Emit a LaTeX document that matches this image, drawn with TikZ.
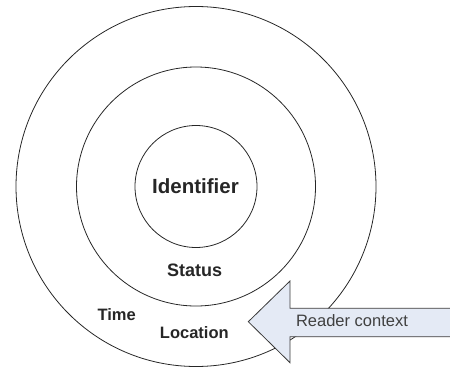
\documentclass[tikz,border=0pt]{standalone}
\usepackage{fontspec}
\setmainfont{Liberation Sans}
\definecolor{arrowfill}{HTML}{E4EAF5}
\definecolor{arrowline}{HTML}{3A3A3A}
\begin{document}
\begin{tikzpicture}[x=1pt,y=-1pt,
  ring/.style={draw=black!85, line width=0.8pt, circle},
  lbl/.style={font=\bfseries\fontsize{16.5}{18}\selectfont, text=black!85, inner sep=0pt},
  arrowshape/.style={draw=arrowline, fill=arrowfill, line width=0.8pt, line join=miter}]
  \useasboundingbox (0,0) rectangle (450,367);
  % concentric rings
  \coordinate (c) at (196,186.5);
  \draw[ring] (c) circle (180);
  \draw[ring] (c) circle (119.5);
  \draw[ring] (c) circle (61);
  % ring labels
  \node[lbl, font=\bfseries\fontsize{20.5}{22}\selectfont] (ident) at (195.5,186) {Identifier};
  \node[lbl, font=\bfseries\fontsize{18}{20}\selectfont] (status) at (194.7,270.5) {Status};
  \node[lbl] (time) at (116.7,315) {Time};
  \node[lbl] (loc) at (194.3,332.5) {Location};
  % block arrow pointing into the outer ring
  \draw[arrowshape] (452,308.3) -- (290,308.3) -- (290,281) -- (248.3,321.7)
     -- (290,362.7) -- (290,336.7) -- (452,336.7);
  \node[inner sep=0pt, text=black!75, font=\fontsize{16.5}{18}\selectfont] (ctx) at (352,321) {Reader context};
\end{tikzpicture}
\end{document}
